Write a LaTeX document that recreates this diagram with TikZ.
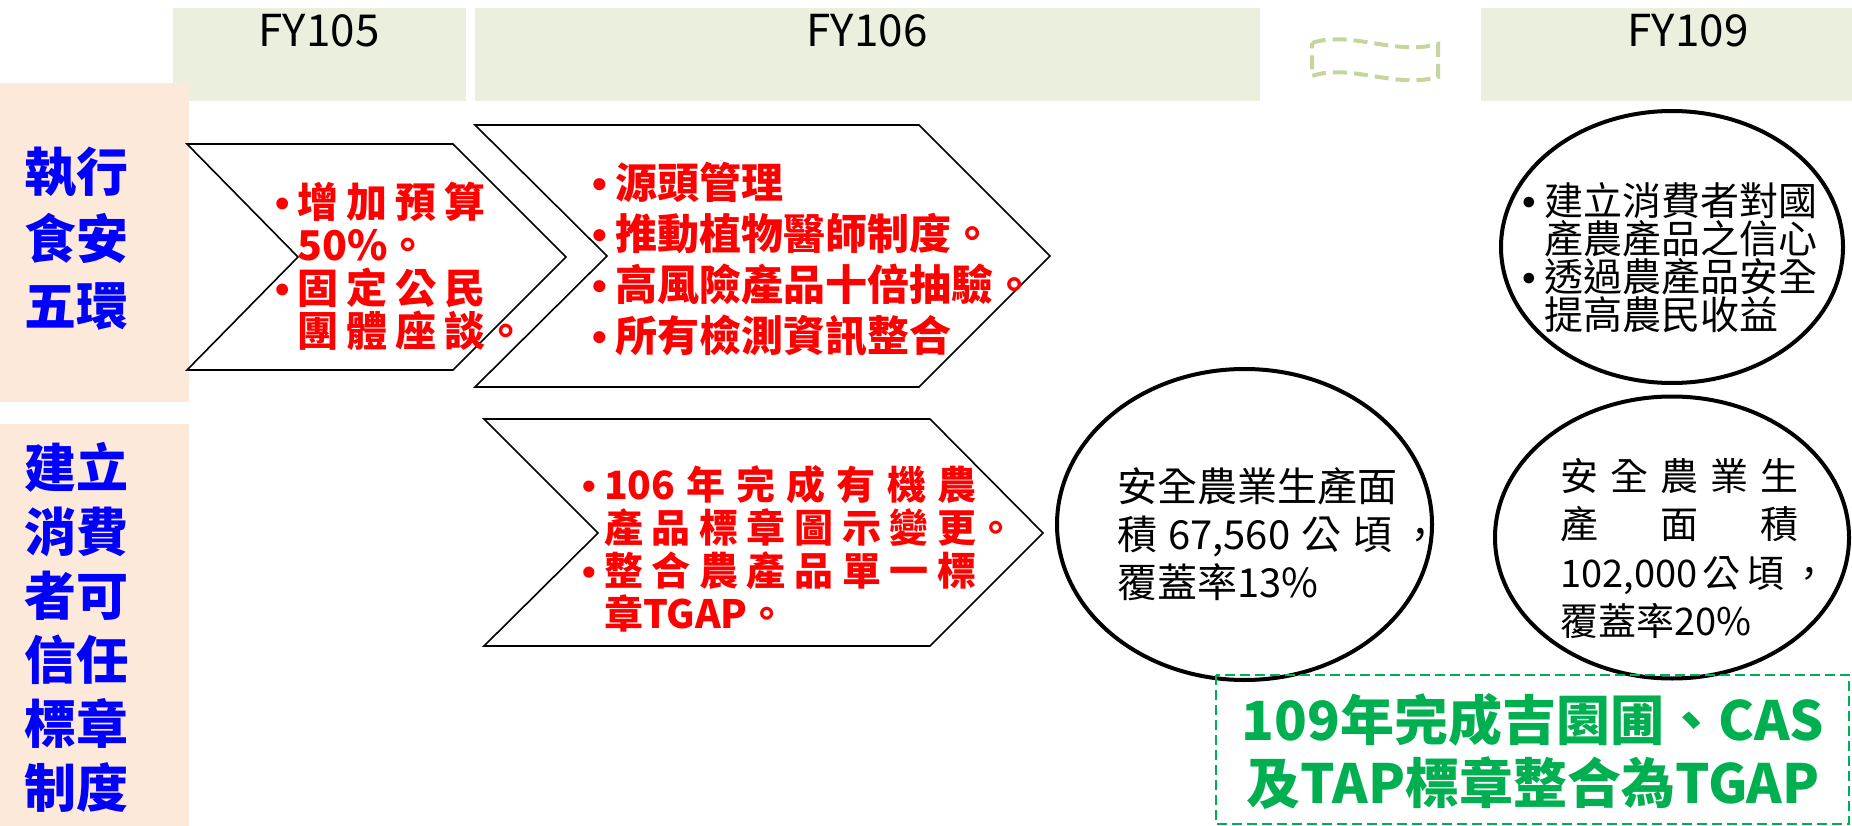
\documentclass[tikz,border=0pt]{standalone}
\usepackage{fontspec}
\setmainfont{Noto Sans CJK TC}
\newfontfamily\bulletfont{Liberation Sans}
\usetikzlibrary{positioning}
\definecolor{headgreen}{RGB}{235,239,222}
\definecolor{rowpink}{RGB}{253,233,217}
\definecolor{notegreen}{RGB}{0,176,80}
\definecolor{wavegreen}{RGB}{195,214,155}
\tikzset{
  yeartext/.style={anchor=base,inner sep=0,font=\fontsize{44}{44}\selectfont},
  rowtext/.style={anchor=north west,inner sep=0,align=left,text=blue},
  chevron/.style={draw=black,fill=white,line width=1.6pt},
  redtext/.style={anchor=north west,inner sep=0,align=left,text=red},
  goal/.style={draw=black,fill=white,line width=4pt},
  goaltext/.style={anchor=north west,inner sep=0,align=left},
}
\newcommand{\cg}{\hspace{8pt}}
\newcommand{\bul}{\makebox[30pt][c]{\bulletfont •}}
\newcommand{\ind}{\hspace{30pt}}

\begin{document}
\begin{tikzpicture}[x=1pt,y=-1pt]
  \useasboundingbox (0,0) rectangle (1852,826);
  \fill[headgreen] (173,8) rectangle (466,101);
  \fill[headgreen] (475,8) rectangle (1260,101);
  \fill[headgreen] (1481,8) rectangle (1852,101);
  \node[yeartext] (fy105) at (319,47) {FY105};
  \node[yeartext] (fy106) at (867,47) {FY106};
  \node[yeartext] (fy109) at (1688,47) {FY109};
  \draw[wavegreen,line width=4pt,dash pattern=on 14pt off 7pt]
    (1312,43) .. controls (1350,30) and (1395,56) .. (1438,44)
    -- (1438,77) .. controls (1395,89) and (1350,63) .. (1312,76) -- cycle;

  \fill[rowpink] (0,83) rectangle (189,402);
  \fill[rowpink] (0,424) rectangle (189,826);
  \node[rowtext,font=\fontsize{52}{67}\selectfont\bfseries] (row1) at (24,147)
    {執行\\食安\\五環};
  \node[rowtext,font=\fontsize{52}{64}\selectfont\bfseries] (row2) at (24,442)
    {建立\\消費\\者可\\信任\\標章\\制度};

  \draw[chevron] (187,144) -- (453,144) -- (566,257) -- (453,370) -- (187,370) -- (298,257) -- cycle;
  \draw[chevron] (475,125) -- (919,125) -- (1050,256) -- (919,387) -- (475,387) -- (607,256) -- cycle;
  \draw[chevron] (484,419) -- (930,419) -- (1043,533) -- (930,646) -- (484,646) -- (598,533) -- cycle;
  \node[redtext,font=\fontsize{41}{43}\selectfont\bfseries] (fund) at (267,182)
    {\bul 增\cg 加\cg 預\cg 算\\
     \ind 50\%。\\
     \bul 固\cg 定\cg 公\cg 民\\
     \ind 團\cg 體\cg 座\cg 談。};
  \node[redtext,font=\fontsize{42}{51}\selectfont\bfseries] (source) at (585,162)
    {\bul 源頭管理\\
     \bul 推動植物醫師制度。\\
     \bul 高風險產品十倍抽驗。\\
     \bul 所有檢測資訊整合};
  \node[redtext,font=\fontsize{39}{43}\selectfont\bfseries] (label) at (574,465)
    {\bul\makebox[372pt][s]{106\hfill 年\hfill 完\hfill 成\hfill 有\hfill 機\hfill 農}\\
     \ind\makebox[372pt][s]{產\hfill 品\hfill 標\hfill 章\hfill 圖\hfill 示\hfill 變\hfill 更}。\\
     \bul\makebox[372pt][s]{整\hfill 合\hfill 農\hfill 產\hfill 品\hfill 單\hfill 一\hfill 標}\\
     \ind 章TGAP。};

  \coordinate (trust) at (1672,247);
  \coordinate (area106) at (1244.5,524.5);
  \coordinate (area109) at (1672,537.5);
  \draw[goal] (trust) ellipse [x radius=171, y radius=136];
  \draw[goal] (area106) ellipse [x radius=187.5, y radius=155.5];
  \draw[goal] (area109) ellipse [x radius=177, y radius=141];
  \node[goaltext,font=\fontsize{39}{38}\selectfont] (trusttext) at (1514,182)
    {\bul 建立消費者對國\\
     \ind 產農產品之信心\\
     \bul 透過農產品安全\\
     \ind 提高農民收益};
  \node[goaltext,font=\fontsize{40}{48}\selectfont] (area106text) at (1117,467)
    {安全農業生產面\\
     積\hspace{11pt}67,560\hspace{11pt}公\hspace{11pt}頃\hspace{8pt}，\\
     覆蓋率13\%};
  \node[goaltext,font=\fontsize{38}{48.5}\selectfont] (area109text) at (1560,458)
    {\makebox[238pt][s]{安\hfill 全\hfill 農\hfill 業\hfill 生}\\
     \makebox[238pt][s]{產\hfill 面\hfill 積}\\
     \makebox[268pt][s]{102,000\hfill 公\hfill 頃\hfill ，}\\
     覆蓋率20\%};

  \draw[notegreen,line width=2pt,dash pattern=on 10pt off 5pt] (1216,675) rectangle (1849,824);
  \node[anchor=north,inner sep=0,align=center,text=notegreen,
        font=\fontsize{54}{63}\selectfont\bfseries] (tgap) at (1533,693)
    {109年完成吉園圃、CAS\\及TAP標章整合為TGAP};
\end{tikzpicture}
\end{document}
